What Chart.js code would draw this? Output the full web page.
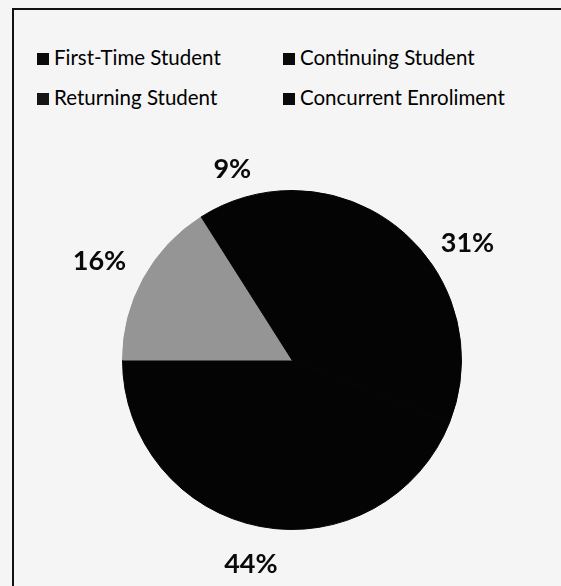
<!DOCTYPE html>
<html>
<head>
<meta charset="utf-8">
<script src="https://cdn.jsdelivr.net/npm/chart.js@4/dist/chart.umd.min.js"></script>
<style>
  html, body { margin: 0; padding: 0; background: #f5f5f5; overflow: hidden; }
  #wrap { position: relative; width: 561px; height: 586px; overflow: hidden; background: #f5f5f5; }
  .rule { position: absolute; background: #111; }
  #legend { position: absolute; left: 0; top: 0; font-family: Lato, "Open Sans", sans-serif;
            font-size: 20.5px; color: #000; }
  .item { position: absolute; white-space: nowrap; line-height: 24px; }
  .box { display: inline-block; width: 12px; height: 12px; margin-right: 5px; vertical-align: 0px; }
  canvas { position: absolute; left: 0; top: 0; }
</style>
</head>
<body>
<div id="wrap">
  <div class="rule" style="left:12px; top:8px; width:549px; height:2px;"></div>
  <div class="rule" style="left:12px; top:8px; width:2px; height:578px;"></div>
  <div id="legend"></div>
  <canvas id="enrolChart" width="540" height="586"></canvas>
</div>
<script>
document.addEventListener('DOMContentLoaded', function() {
    // Student type shares (percent)
    var studentTypes = ["First-Time Student", "Continuing Student", "Returning Student", "Concurrent Enroliment"];
    var shares = [31, 44, 16, 9];
    var sliceColors = ["#040404", "#040404", "#959595", "#040404"];
    var legendColors = ["#0a0a0a", "#0a0a0a", "#151515", "#0a0a0a"];

    // 2x2 legend above the pie
    var legendPos = [[37, 45], [283, 45], [37, 85], [283, 85]];
    var legend = document.getElementById("legend");
    studentTypes.forEach(function(name, i) {
        var el = document.createElement("div");
        el.className = "item";
        el.style.left = legendPos[i][0] + "px";
        el.style.top = legendPos[i][1] + "px";
        el.innerHTML = '<span class="box" style="background:' + legendColors[i] + '"></span>' + name;
        legend.appendChild(el);
    });

    // percentage labels just outside each slice
    var outsideLabels = {
        id: "outsideLabels",
        afterDatasetsDraw: function(chart) {
            var ctx = chart.ctx;
            var meta = chart.getDatasetMeta(0);
            ctx.save();
            ctx.font = "bold 27px Lato, 'Open Sans', sans-serif";
            ctx.fillStyle = "#0a0a0a";
            ctx.textAlign = "center";
            ctx.textBaseline = "middle";
            meta.data.forEach(function(arc, i) {
                var p = arc.getProps(["x", "y", "startAngle", "endAngle", "outerRadius"], true);
                var mid = (p.startAngle + p.endAngle) / 2;
                var text = shares[i] + "%";
                var w = ctx.measureText(text).width;
                var h = 22;
                var dx = Math.cos(mid), dy = Math.sin(mid);
                var d = p.outerRadius + 18 + Math.abs(dx) * w / 2 + Math.abs(dy) * h / 2;
                ctx.fillText(text, p.x + dx * d - 3, p.y + dy * d + 5);
            });
            ctx.restore();
        }
    };

    var ctx1 = document.getElementById("enrolChart").getContext("2d");
    var enrolChart = new Chart(ctx1, {
        type: "pie",
        data: {
            labels: studentTypes,
            datasets: [{
                data: shares,
                backgroundColor: sliceColors,
                borderColor: sliceColors,
                borderWidth: 1
            }]
        },
        options: {
            responsive: false,
            animation: false,
            layout: { padding: { left: 122, right: 78, top: 190, bottom: 56 } },
            plugins: {
                legend: { display: false },
                tooltip: { enabled: false }
            }
        },
        plugins: [outsideLabels]
    });
});
</script>
</body>
</html>
